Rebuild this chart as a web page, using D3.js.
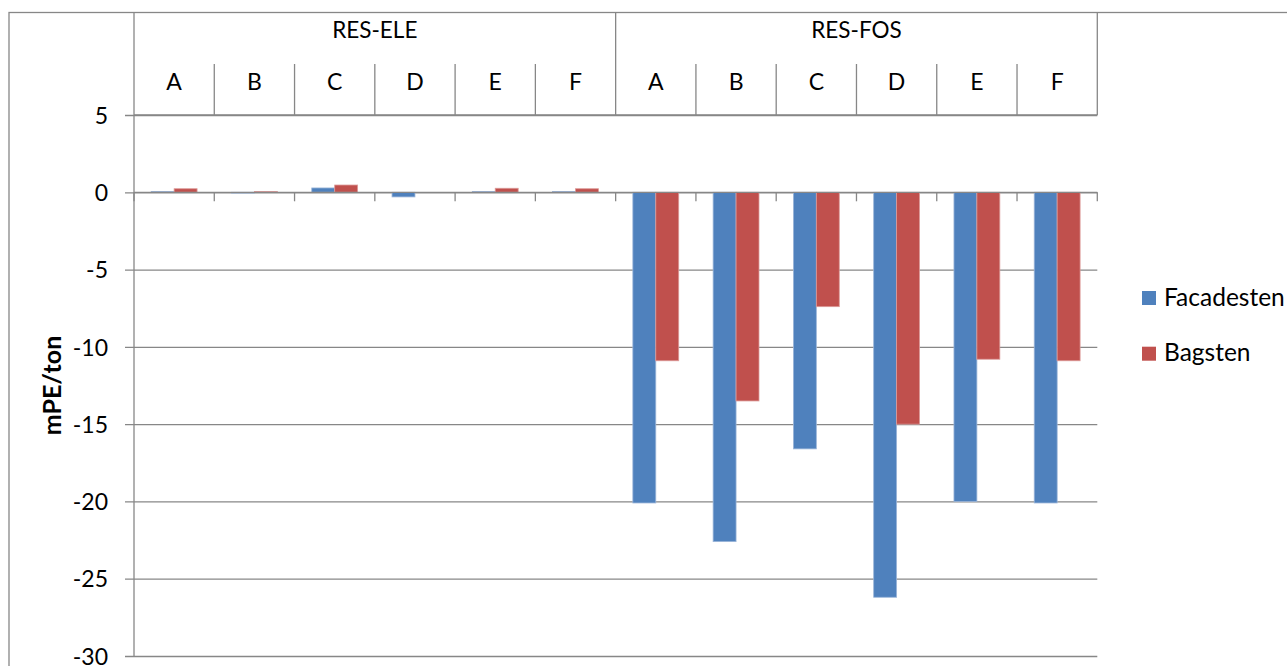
<!DOCTYPE html>
<html>
<head>
<meta charset="utf-8">
<script src="https://cdn.jsdelivr.net/npm/d3@7"></script>
<style>
html,body{margin:0;padding:0;background:#fff;overflow:hidden;}
svg{display:block;}
text{font-family:Lato,"Open Sans",sans-serif;fill:#000;}
</style>
</head>
<body>
<svg id="chart" width="1287" height="666"></svg>
<script>
// ---- data ----
const groups = ["RES-ELE", "RES-FOS"];
const letters = ["A", "B", "C", "D", "E", "F"];
const seriesNames = ["Facadesten", "Bagsten"];
const facadesten = [0.05, -0.05, 0.28, -0.3, 0.05, 0.05, -20.1, -22.6, -16.6, -26.2, -20.0, -20.1];
const bagsten = [0.23, 0.05, 0.47, 0, 0.26, 0.23, -10.9, -13.5, -7.4, -15.0, -10.8, -10.9];
const yTicks = [5, 0, -5, -10, -15, -20, -25, -30];
const yTitle = "mPE/ton";

const colors = {Facadesten: "#4F81BD", Bagsten: "#C0504D"};
const strokes = {Facadesten: "#9bb5d9", Bagsten: "#dc9a98"};

const svg = d3.select("#chart");
const W = 1287, H = 666;
const left = 134, right = 1097.3, plotTop = 115, plotBottom = 656;
const headTop = 12.5, headMid = 64;
const gridCol = "#878787";
const fs = 22;

const keys = [];
groups.forEach(g => letters.forEach(l => keys.push(g + "|" + l)));
const rows = keys.map((k, i) => ({key: k, group: k.split("|")[0], letter: k.split("|")[1], Facadesten: facadesten[i], Bagsten: bagsten[i]}));

const x = d3.scaleBand().domain(keys).range([left, right]).paddingInner(0).paddingOuter(0);
const x1 = d3.scaleBand().domain(seriesNames).range([0, x.bandwidth()]).paddingInner(0).paddingOuter(0.75);
const y = d3.scaleLinear().domain([-30, 5]).range([plotBottom, plotTop]);

// outer chart border
svg.append("rect").attr("x", 9).attr("y", headTop).attr("width", W + 20).attr("height", H + 20)
  .attr("fill", "none").attr("stroke", gridCol).attr("stroke-width", 1.3);

// gridlines via axis
const yAxis = d3.axisLeft(y).tickValues(yTicks).tickSize(-(right - left)).tickFormat(d => d < 0 ? "-" + Math.abs(d) : String(d)).tickPadding(26);
const gy = svg.append("g").attr("transform", `translate(${left},0)`).call(yAxis);
gy.select(".domain").remove();
gy.selectAll(".tick line").attr("stroke", gridCol).attr("stroke-width", 1.3).attr("x1", -9);
gy.selectAll(".tick text").attr("font-size", 23).attr("font-family", "Lato").attr("fill", "#000").attr("dy", "0.36em");

// bars
const series = seriesNames.map(s => rows.map(r => ({key: r.key, s, v: r[s]})));
svg.append("g").selectAll("g").data(series).join("g")
  .selectAll("rect").data(d => d).join("rect")
  .attr("x", d => x(d.key) + x1(d.s))
  .attr("width", x1.bandwidth())
  .attr("y", d => y(Math.max(0, d.v)))
  .attr("height", d => Math.abs(y(d.v) - y(0)))
  .attr("fill", d => colors[d.s])
  .attr("stroke", d => strokes[d.s])
  .attr("stroke-width", 0.8);

// zero axis line with category ticks below
svg.append("line").attr("x1", left).attr("x2", right).attr("y1", y(0)).attr("y2", y(0))
  .attr("stroke", gridCol).attr("stroke-width", 1.3);
const boundaries = keys.map(k => x(k)).concat([right]);
svg.append("g").selectAll("line").data(boundaries).join("line")
  .attr("x1", d => d).attr("x2", d => d).attr("y1", y(0)).attr("y2", y(0) + 9)
  .attr("stroke", gridCol).attr("stroke-width", 1.3);

// vertical axis line
svg.append("line").attr("x1", left).attr("x2", left).attr("y1", headTop).attr("y2", plotBottom)
  .attr("stroke", gridCol).attr("stroke-width", 1.3);

// header table
const head = svg.append("g");
head.append("line").attr("x1", left).attr("x2", right).attr("y1", plotTop).attr("y2", plotTop)
  .attr("stroke", gridCol).attr("stroke-width", 1.3);
head.append("line").attr("x1", right).attr("x2", right).attr("y1", headTop).attr("y2", plotTop)
  .attr("stroke", gridCol).attr("stroke-width", 1.3);
// group dividers
const groupBounds = groups.map(g => x(g + "|" + letters[0]));
head.selectAll("line.gdiv").data(groupBounds.slice(1)).join("line").attr("class", "gdiv")
  .attr("x1", d => d).attr("x2", d => d).attr("y1", headTop).attr("y2", plotTop)
  .attr("stroke", gridCol).attr("stroke-width", 1.3);
// letter dividers
head.selectAll("line.ldiv").data(keys.filter(k => k.split("|")[1] !== letters[0])).join("line").attr("class", "ldiv")
  .attr("x1", d => x(d)).attr("x2", d => x(d)).attr("y1", headMid).attr("y2", plotTop)
  .attr("stroke", gridCol).attr("stroke-width", 1.3);
// letter labels
head.selectAll("text.lt").data(rows).join("text").attr("class", "lt")
  .attr("x", d => x(d.key) + x.bandwidth() / 2).attr("y", 90)
  .attr("text-anchor", "middle").attr("font-size", 23).text(d => d.letter);
// group labels
head.selectAll("text.gt").data(groups).join("text").attr("class", "gt")
  .attr("x", g => x(g + "|" + letters[0]) + x.bandwidth() * letters.length / 2).attr("y", 38)
  .attr("text-anchor", "middle").attr("font-size", 22.5).text(g => g);

// y title
svg.append("text").attr("transform", `translate(61,${(plotTop + plotBottom) / 2}) rotate(-90)`)
  .attr("text-anchor", "middle").attr("font-size", 25).attr("font-weight", "bold").text(yTitle);

// legend
const lg = svg.append("g").selectAll("g").data(seriesNames).join("g")
  .attr("transform", (d, i) => `translate(1142,${291 + i * 55.7})`);
lg.append("rect").attr("width", 14).attr("height", 14).attr("fill", d => colors[d]);
lg.append("text").attr("x", 22).attr("y", 14.5).attr("font-size", 24.5).text(d => d);
</script>
</body>
</html>
